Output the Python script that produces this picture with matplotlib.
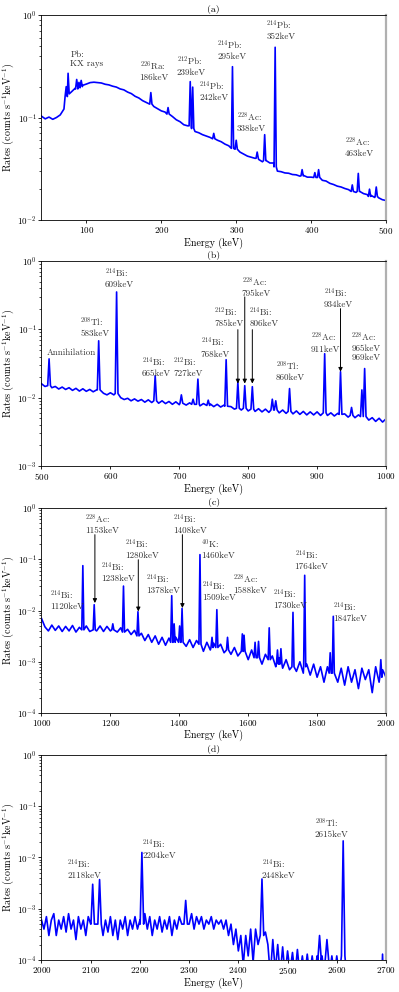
import numpy as np
import matplotlib
matplotlib.use("Agg")
import matplotlib.pyplot as plt

plt.rcParams['font.family'] = 'cmr10'
plt.rcParams['mathtext.fontset'] = 'cm'
plt.rcParams['axes.formatter.use_mathtext'] = True
plt.rcParams['axes.unicode_minus'] = True

# ---- panel (a): 40-500 keV, continuum sampled every 5 keV ----
a_step = 5
a_start = 40
a_cont = [0.103, 0.097, 0.101, 0.096, 0.100, 0.106, 0.121, 0.160, 0.178, 0.193,
          0.199, 0.206, 0.212, 0.219, 0.221, 0.219, 0.217, 0.211, 0.208, 0.202,
          0.198, 0.190, 0.186, 0.177, 0.171, 0.161, 0.155, 0.146, 0.140, 0.136,
          0.128, 0.122, 0.116, 0.113, 0.107, 0.102, 0.095, 0.091, 0.085, 0.083,
          0.095, 0.073, 0.071, 0.068, 0.066, 0.064, 0.063, 0.060, 0.058, 0.055,
          0.053, 0.050, 0.051, 0.046, 0.044, 0.042, 0.041, 0.040, 0.039, 0.037,
          0.038, 0.036, 0.036, 0.030, 0.0296, 0.0288, 0.0286, 0.0278, 0.0276, 0.0268,
          0.0272, 0.0262, 0.0262, 0.0254, 0.0258, 0.0244, 0.0240, 0.0228, 0.0222, 0.0214,
          0.0210, 0.0203, 0.0198, 0.0190, 0.0186, 0.0190, 0.0181, 0.0177, 0.0174, 0.0166,
          0.0165, 0.0158, 0.0155]
a_peak_e = [73, 75.5, 87, 90, 93, 186, 209, 238.6, 241.9, 270, 295, 300, 328, 338,
            352, 388, 405, 410, 455, 463, 478, 487]
a_peak_top = [0.20, 0.27, 0.235, 0.22, 0.23, 0.175, 0.125, 0.224, 0.198, 0.070, 0.313,
              0.060, 0.046, 0.068, 0.484, 0.031, 0.029, 0.031, 0.022, 0.0285, 0.020, 0.021]
a_peak_base = [0.16, 0.17, 0.19, 0.195, 0.20, 0.135, 0.108, 0.083, 0.078, 0.062, 0.050,
               0.049, 0.040, 0.038, 0.033, 0.027, 0.026, 0.026, 0.019, 0.019, 0.017, 0.017]
a_labels = ['Pb:\nKX rays', r'$^{226}$Ra:' + '\n186keV', r'$^{212}$Pb:' + '\n239keV',
            r'$^{214}$Pb:' + '\n242keV', r'$^{214}$Pb:' + '\n295keV', r'$^{214}$Pb:' + '\n352keV',
            r'$^{228}$Ac:' + '\n338keV', r'$^{228}$Ac:' + '\n463keV']
a_label_x = [78.6, 170.9, 220.6, 250.7, 275, 340.4, 300.4, 444.6]
a_label_y = [0.302, 0.220, 0.250, 0.141, 0.356, 0.562, 0.0711, 0.0406]

# ---- panel (b): 500-1000 keV ----
b_step = 5
b_start = 500
b_cont = [0.0160, 0.0146, 0.0152, 0.0140, 0.0146, 0.0134, 0.0143, 0.0132, 0.0140, 0.0128,
          0.0137, 0.0125, 0.0135, 0.0124, 0.0132, 0.0122, 0.0130, 0.0120, 0.0116, 0.0110,
          0.0118, 0.0110, 0.0106, 0.0100, 0.0094, 0.0098, 0.0090, 0.0096, 0.0089, 0.0094,
          0.0086, 0.0093, 0.0085, 0.0090, 0.0083, 0.0090, 0.0082, 0.0088, 0.0080, 0.0087,
          0.0079, 0.0086, 0.0078, 0.0084, 0.0077, 0.0083, 0.0076, 0.0082, 0.0075, 0.0081,
          0.0074, 0.0080, 0.0073, 0.0078, 0.0072, 0.0074, 0.0068, 0.0073, 0.0066, 0.0071,
          0.0064, 0.0070, 0.0063, 0.0069, 0.0062, 0.0068, 0.0061, 0.0067, 0.0064, 0.0060,
          0.0066, 0.0059, 0.0065, 0.0058, 0.0064, 0.0057, 0.0063, 0.0056, 0.0062, 0.0056,
          0.0062, 0.0055, 0.0061, 0.0055, 0.0060, 0.0054, 0.0059, 0.0053, 0.0058, 0.0052,
          0.0057, 0.0051, 0.0056, 0.0050, 0.0052, 0.0047, 0.0051, 0.0045, 0.0050, 0.0044,
          0.0049]
b_peak_e = [511, 583, 609, 665, 703, 720, 727, 742, 768, 785, 795, 806, 835, 840, 860,
            911, 934, 950, 965, 969]
b_peak_top = [0.037, 0.068, 0.352, 0.021, 0.011, 0.0095, 0.0187, 0.0092, 0.036, 0.017,
              0.015, 0.0145, 0.0095, 0.009, 0.0136, 0.044, 0.024, 0.0072, 0.013, 0.0267]
b_peak_base = [0.015, 0.013, 0.0115, 0.009, 0.0083, 0.008, 0.008, 0.0077, 0.0075, 0.007,
               0.007, 0.0068, 0.0066, 0.0066, 0.0063, 0.006, 0.0057, 0.0055, 0.0053, 0.0053]
b_labels = ['Annihilation', r'$^{208}$Tl:' + '\n583keV', r'$^{214}$Bi:' + '\n609keV',
            r'$^{214}$Bi:' + '\n665keV', r'$^{212}$Bi:' + '\n727keV', r'$^{214}$Bi:' + '\n768keV',
            r'$^{212}$Bi:' + '\n785keV', r'$^{228}$Ac:' + '\n795keV', r'$^{214}$Bi:' + '\n806keV',
            r'$^{208}$Tl:' + '\n860keV', r'$^{228}$Ac:' + '\n911keV', r'$^{214}$Bi:' + '\n934keV',
            r'$^{228}$Ac:' + '\n965keV\n969keV']
b_label_x = [508, 556, 591.6, 646, 691.4, 731.4, 750.7, 790.7, 801.4, 840, 890.5, 909.8, 949.4]
b_label_y = [0.040, 0.0758, 0.385, 0.0191, 0.0191, 0.0374, 0.106, 0.291, 0.106, 0.017,
             0.0443, 0.197, 0.0334]
b_arrow_x = [785, 795, 806, 934]
b_arrow_from = [0.099, 0.298, 0.099, 0.201]
b_arrow_to = [0.0161, 0.0161, 0.0161, 0.0239]

# ---- panel (c): 1000-2000 keV ----
c_step = 10
c_start = 1000
c_cont = [0.0070, 0.0048, 0.0040, 0.0052, 0.0041, 0.0050, 0.0039, 0.0049, 0.0040, 0.0051,
          0.0038, 0.0047, 0.0042, 0.0050, 0.0039, 0.0048, 0.0040, 0.0050, 0.0039, 0.0049,
          0.0040, 0.0052, 0.0038, 0.0046, 0.0037, 0.0043, 0.0034, 0.0041, 0.0031, 0.0036,
          0.0026, 0.0034, 0.0024, 0.0032, 0.0022, 0.0030, 0.0021, 0.0029, 0.0022, 0.0030,
          0.0023, 0.0028, 0.0020, 0.0027, 0.0019, 0.0026, 0.0021, 0.0016, 0.0024, 0.0017,
          0.0023, 0.0016, 0.0022, 0.0015, 0.0021, 0.0014, 0.0019, 0.0013, 0.0022, 0.0016,
          0.0011, 0.0017, 0.0010, 0.0016, 0.0009, 0.0014, 0.0009, 0.0013, 0.0008, 0.0012,
          0.00075, 0.0011, 0.0007, 0.0010, 0.00065, 0.0010, 0.0006, 0.0009, 0.00055, 0.0009,
          0.0005, 0.0008, 0.0004, 0.0008, 0.0005, 0.0007, 0.0004, 0.00075, 0.00035, 0.0008,
          0.0004, 0.0007, 0.0003, 0.00075, 0.00045, 0.0007, 0.00025, 0.0008, 0.0004, 0.0007,
          0.0005]
c_peak_e = [1120, 1153, 1207, 1238, 1280, 1378, 1385, 1401, 1408, 1460, 1495, 1509, 1540,
            1583, 1588, 1620, 1630, 1661, 1685, 1695, 1730, 1764, 1838, 1847, 1985]
c_peak_top = [0.075, 0.013, 0.0055, 0.030, 0.0095, 0.0195, 0.0055, 0.0050, 0.011, 0.123,
              0.0030, 0.0104, 0.0030, 0.0035, 0.0033, 0.0024, 0.0025, 0.0046, 0.0017,
              0.0018, 0.0092, 0.0486, 0.0015, 0.0077, 0.0011]
c_peak_base = [0.0042, 0.0042, 0.0042, 0.0038, 0.0032, 0.0024, 0.0024, 0.0024, 0.0024,
               0.0022, 0.0019, 0.0019, 0.0017, 0.0016, 0.0016, 0.0012, 0.0012, 0.0011,
               0.0009, 0.0009, 0.0008, 0.0008, 0.0006, 0.0006, 0.0005]
c_labels = [r'$^{214}$Bi:' + '\n1120keV', r'$^{228}$Ac:' + '\n1153keV', r'$^{214}$Bi:' + '\n1238keV',
            r'$^{214}$Bi:' + '\n1280keV', r'$^{214}$Bi:' + '\n1378keV', r'$^{214}$Bi:' + '\n1408keV',
            r'$^{40}$K:' + '\n1460keV', r'$^{214}$Bi:' + '\n1509keV', r'$^{228}$Ac:' + '\n1588keV',
            r'$^{214}$Bi:' + '\n1730keV', r'$^{214}$Bi:' + '\n1764keV', r'$^{214}$Bi:' + '\n1847keV']
c_label_x = [1026, 1125.4, 1173.6, 1243, 1303.8, 1382.8, 1462.9, 1465.8, 1556.4, 1673, 1734.8, 1845.7]
c_label_y = [0.00963, 0.302, 0.0344, 0.098, 0.0204, 0.302, 0.098, 0.0144, 0.0198, 0.0104,
             0.0599, 0.0057]
c_arrow_x = [1155, 1281, 1409]
c_arrow_from = [0.302, 0.098, 0.302]
c_arrow_to = [0.014, 0.0096, 0.0112]

# ---- panel (d): 2000-2700 keV ----
d_step = 5
d_start = 2000
d_cont = [0.0006, 0.0004, 0.0007, 0.0003, 0.0006, 0.0008, 0.0003, 0.0006, 0.0004, 0.0007,
          0.00035, 0.0008, 0.0004, 0.0006, 0.00025, 0.0007, 0.0004, 0.0006, 0.0003, 0.0007,
          0.0005, 0.0005, 0.0005, 0.0004, 0.0006, 0.0003, 0.0006, 0.00035, 0.0007, 0.0003,
          0.0006, 0.00025, 0.0006, 0.0004, 0.0007, 0.0003, 0.0006, 0.0004, 0.0007, 0.0004,
          0.0006, 0.0006, 0.0008, 0.0004, 0.0007, 0.0003, 0.0006, 0.0004, 0.0007, 0.00035,
          0.0006, 0.0004, 0.0007, 0.0003, 0.0006, 0.0004, 0.0007, 0.0005, 0.0006, 0.0007,
          0.0005, 0.0008, 0.0004, 0.0007, 0.0005, 0.0007, 0.0004, 0.0006, 0.0005, 0.0007,
          0.0004, 0.0006, 0.0005, 0.0006, 0.0004, 0.0006, 0.0003, 0.0005, 0.0002, 0.0004,
          0.00015, 0.0003, 0.00008, 0.0003, 0.00012, 0.0004, 0.00009, 0.0004, 0.0002, 0.0005,
          0.0004, 0.00035, 0.0002, 0.00005, 0.00025, 0.00006, 0.0002, 0.00005, 0.00018, 0.00005,
          0.00015, 0.00006, 0.00014, 0.00005, 0.00016, 0.00005, 0.00012, 0.00005, 0.00013, 0.00005,
          0.00012, 0.00005, 0.00012, 0.00005, 0.00012, 0.00005, 0.00013, 0.00005, 0.00012, 0.00005,
          0.00012, 0.00005, 0.00013, 0.00012, 0.00005]
d_peak_e = [2104, 2118, 2204, 2293, 2448, 2565, 2580, 2613, 2693]
d_peak_top = [0.0030, 0.0037, 0.0125, 0.00145, 0.0038, 0.0003, 0.00025, 0.021, 0.00013]
d_peak_base = [0.0005, 0.0005, 0.0005, 0.0005, 0.0003, 0.0001, 0.0001, 0.00012, 0.00001]
d_labels = [r'$^{214}$Bi:' + '\n2118keV', r'$^{214}$Bi:' + '\n2204keV',
            r'$^{214}$Bi:' + '\n2448keV', r'$^{208}$Tl:' + '\n2615keV']
d_label_x = [2052, 2204.6, 2447.7, 2555]
d_label_y = [0.0037, 0.00888, 0.0037, 0.0226]


def spectrum(start, step, cont, pk_e, pk_top, pk_base, hw):
    grid = start + step * np.arange(len(cont))
    pk = np.asarray(pk_e, dtype=float)
    e, v = [], []
    for x, y in zip(grid, cont):
        if np.all(np.abs(pk - x) > hw):
            e.append(x)
            v.append(y)
    for x, top, base in zip(pk_e, pk_top, pk_base):
        e += [x - hw, x, x + hw]
        v += [base, top, base]
    order = np.argsort(e)
    return np.asarray(e)[order], np.asarray(v)[order]


panels = [
    ('(a)', (40, 500), (1e-2, 1), [100, 200, 300, 400, 500],
     spectrum(a_start, a_step, a_cont, a_peak_e, a_peak_top, a_peak_base, 1.5),
     a_labels, a_label_x, a_label_y, [], [], []),
    ('(b)', (500, 1000), (1e-3, 1), [500, 600, 700, 800, 900, 1000],
     spectrum(b_start, b_step, b_cont, b_peak_e, b_peak_top, b_peak_base, 2.0),
     b_labels, b_label_x, b_label_y, b_arrow_x, b_arrow_from, b_arrow_to),
    ('(c)', (1000, 2000), (1e-4, 1), [1000, 1200, 1400, 1600, 1800, 2000],
     spectrum(c_start, c_step, c_cont, c_peak_e, c_peak_top, c_peak_base, 3.0),
     c_labels, c_label_x, c_label_y, c_arrow_x, c_arrow_from, c_arrow_to),
    ('(d)', (2000, 2700), (1e-4, 1), [2000, 2100, 2200, 2300, 2400, 2500, 2600, 2700],
     spectrum(d_start, d_step, d_cont, d_peak_e, d_peak_top, d_peak_base, 3.5),
     d_labels, d_label_x, d_label_y, [], [], []),
]

fig = plt.figure(figsize=(3.99, 9.92), dpi=100)
bottoms = [0.7782, 0.5302, 0.2812, 0.0323]
height = 0.2067
left, width = 0.104, 0.8634

for (title, xlim, ylim, xticks, (ex, ey), labels, lx, ly, arx, arf, art), b in zip(panels, bottoms):
    ax = fig.add_axes([left, b, width, height])
    ax.plot(ex, ey, color='#0000ff', linewidth=1.2)
    ax.set_yscale('log')
    ax.set_xlim(*xlim)
    ax.set_ylim(*ylim)
    ax.set_xticks(xticks)
    ax.tick_params(labelsize=6.5, length=2, width=0.6, pad=1.5)
    ax.tick_params(which='minor', length=1.8, width=0.5)
    ax.set_title(title, fontsize=7, pad=2)
    ax.set_xlabel('Energy (keV)', fontsize=7.2, labelpad=1)
    ax.set_ylabel(r'Rates (counts s$^{-1}$keV$^{-1}$)', fontsize=7.2)
    ax.yaxis.set_label_coords(-0.075, 0.5)
    for s in ['left', 'bottom', 'top']:
        ax.spines[s].set_linewidth(0.6)
    ax.spines['right'].set_color('#b0b0b0')
    ax.spines['right'].set_linewidth(1.6)
    for txt, x, y in zip(labels, lx, ly):
        ax.text(x, y, txt, fontsize=6.5, color='#333333', ha='left', va='bottom',
                linespacing=1.1)
    for x, y0, y1 in zip(arx, arf, art):
        ax.annotate('', xy=(x, y1), xytext=(x, y0),
                    arrowprops=dict(arrowstyle='-|>', color='black', lw=0.7,
                                    mutation_scale=6, shrinkA=0, shrinkB=0))

fig.savefig('out.png', dpi=100)
